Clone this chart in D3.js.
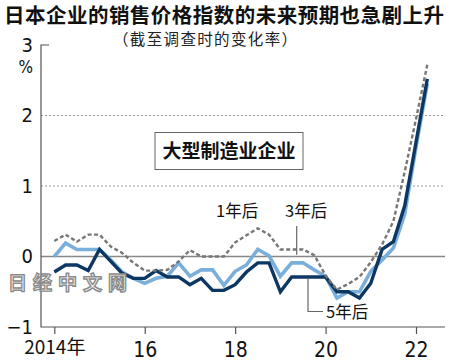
<!DOCTYPE html>
<html><head><meta charset="utf-8">
<script src="https://cdn.jsdelivr.net/npm/d3@7"></script>
<style>
body{margin:0;background:#fff;}
svg{display:block;}
.cjk{font-family:"Noto Sans CJK SC","Noto Sans CJK JP",sans-serif;}
.num{font-family:"Liberation Sans Narrow","DejaVu Sans Condensed","Liberation Sans",sans-serif;}
</style></head>
<body>
<script>
const title = "日本企业的销售价格指数的未来预期也急剧上升";
const subtitle = "（截至调查时的变化率）";
const boxLabel = "大型制造业企业";
const watermark = "日经中文网";
const startYear = 2014;
const xTicks = [2014, 2016, 2018, 2020, 2022];
const xTickLabels = ["2014年", "16", "18", "20", "22"];
const yTicks = [-1, 0, 1, 2, 3];
const seriesNames = ["1年后", "3年后", "5年后"];
// quarterly values, 2014 Q1 .. 2022 Q2
const oneYear = [0.22,0.31,0.21,0.31,0.31,0.14,0.05,-0.09,-0.2,-0.2,-0.19,-0.07,0.09,0.0,0.0,0.0,0.2,0.3,0.4,0.31,0.1,0.1,0.1,0.02,-0.27,-0.47,-0.39,-0.29,-0.08,0.17,0.5,1.2,1.95,2.72];
const threeYear = [0.0,0.19,0.1,0.1,0.1,-0.05,-0.22,-0.31,-0.38,-0.31,-0.28,-0.09,-0.28,-0.19,-0.19,-0.41,-0.21,-0.12,0.1,0.01,-0.28,-0.09,-0.09,-0.19,-0.28,-0.59,-0.5,-0.5,-0.21,-0.05,0.12,0.6,1.55,2.45];
const fiveYear = [-0.22,-0.12,-0.12,-0.2,0.1,-0.07,-0.24,-0.31,-0.31,-0.2,-0.29,-0.29,-0.4,-0.31,-0.48,-0.48,-0.4,-0.22,-0.09,-0.09,-0.5,-0.29,-0.29,-0.29,-0.29,-0.5,-0.5,-0.59,-0.38,0.1,0.21,0.72,1.62,2.52];

const W = 450, H = 363;
const svg = d3.select("body").append("svg").attr("width", W).attr("height", H);
const x = d3.scaleLinear().domain([2014, 2022]).range([54.3, 416]);
const y = d3.scaleLinear().domain([-1, 3]).range([327, 45]);
const axL = 41, axR = 445;

// title
svg.append("text").attr("class","cjk").attr("x", 4).attr("y", 23)
  .attr("font-size", 20.5).attr("font-weight", "bold").attr("fill", "#111")
  .attr("textLength", 440).attr("lengthAdjust","spacing").text(title);
svg.append("text").attr("class","cjk").attr("x", 113).attr("y", 45)
  .attr("font-size", 15.5).attr("fill", "#222")
  .attr("textLength", 184).attr("lengthAdjust","spacing").text(subtitle);

// gridlines
[1, 2].forEach(v => {
  svg.append("line").attr("x1", axL).attr("x2", axR).attr("y1", y(v)).attr("y2", y(v))
    .attr("stroke", "#999").attr("stroke-width", 1).attr("stroke-dasharray", "2,2");
});
svg.append("line").attr("x1", axL).attr("x2", axR).attr("y1", y(0)).attr("y2", y(0))
  .attr("stroke", "#888").attr("stroke-width", 1.3);

// axes
const gx = svg.append("g").attr("transform", `translate(0,${y(-1)})`)
  .call(d3.axisBottom(x).tickValues(xTicks).tickSize(7).tickSizeOuter(0)
    .tickFormat((d,i) => xTickLabels[i]));
gx.select(".domain").remove();
gx.selectAll(".tick line").attr("stroke", "#555").attr("stroke-width", 1.2);
gx.selectAll(".tick text").attr("class","num").attr("font-size", 21).attr("fill","#111").attr("dy", "0.95em");
gx.selectAll(".tick text").filter((d,i)=>i===0).attr("class","cjk").attr("font-size", 19).attr("dy","0.9em");

const gy = svg.append("g").attr("transform", `translate(${axL},0)`)
  .call(d3.axisLeft(y).tickValues(yTicks).tickSize(0).tickPadding(8).tickFormat(d3.format("d")));
gy.select(".domain").remove();
gy.selectAll(".tick text").attr("class","num").attr("font-size", 20).attr("fill","#111");
svg.append("text").attr("class","num").attr("x", 33).attr("y", 73).attr("text-anchor","end")
  .attr("font-size", 17).attr("fill","#111").text("%");

svg.append("path").attr("d", `M${axL+8},${y(3)}H${axL}V${y(-1)}H${axR}`)
  .attr("fill","none").attr("stroke","#555").attr("stroke-width",1.2);

// lines
const line = d3.line().x((d,i) => x(startYear + i*0.25)).y(d => y(d));
svg.append("path").datum(threeYear).attr("d", line).attr("fill","none")
  .attr("stroke", "#7aaedb").attr("stroke-width", 3.6).attr("stroke-linejoin","miter");
svg.append("path").datum(fiveYear).attr("d", line).attr("fill","none")
  .attr("stroke", "#0d3763").attr("stroke-width", 3.4).attr("stroke-linejoin","miter");
svg.append("path").datum(oneYear).attr("d", line).attr("fill","none")
  .attr("stroke", "#777").attr("stroke-width", 2.4).attr("stroke-dasharray","4,2.5");

// box label
svg.append("rect").attr("x", 155).attr("y", 132.5).attr("width", 148).attr("height", 37)
  .attr("fill","#fff").attr("stroke","#666").attr("stroke-width",1);
svg.append("text").attr("class","cjk").attr("x", 229).attr("y", 158).attr("text-anchor","middle")
  .attr("font-size", 19).attr("font-weight","bold").attr("fill","#111").text(boxLabel);

// series labels
svg.append("text").attr("class","cjk").attr("x", 216).attr("y", 217).attr("font-size", 16.5).attr("fill","#111").text(seriesNames[0]);
svg.append("text").attr("class","cjk").attr("x", 285).attr("y", 217).attr("font-size", 16.5).attr("fill","#111").text(seriesNames[1]);
svg.append("text").attr("class","cjk").attr("x", 326).attr("y", 318).attr("font-size", 16.5).attr("fill","#111").text(seriesNames[2]);
svg.append("line").attr("x1", 296.7).attr("x2", 296.7).attr("y1", 226).attr("y2", y(threeYear[19]) - 1)
  .attr("stroke","#666").attr("stroke-width",1.2);
svg.append("path").attr("d", `M308,${y(fiveYear[22]) + 2}V311.5H323`)
  .attr("fill","none").attr("stroke","#666").attr("stroke-width",1.2);

// watermark
svg.append("text").attr("class","cjk").attr("x", 8).attr("y", 290)
  .attr("font-size", 19).attr("font-weight","bold").attr("letter-spacing", 6)
  .attr("fill","#fff").attr("fill-opacity",0.85).attr("stroke","#8a8a8a").attr("stroke-width",1.4)
  .text(watermark);
</script>
</body></html>
